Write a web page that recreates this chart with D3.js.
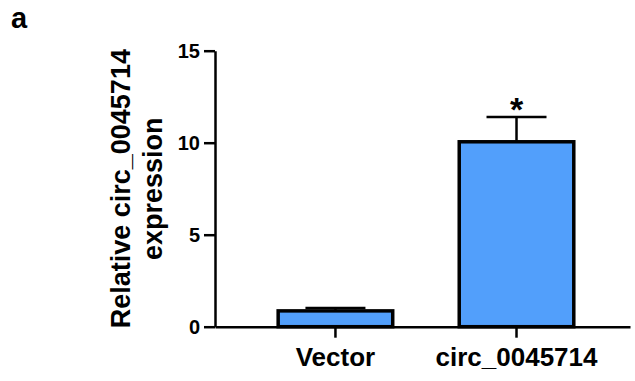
<!DOCTYPE html>
<html>
<head>
<meta charset="utf-8">
<script src="https://cdn.jsdelivr.net/npm/d3@7"></script>
<style>
  body { margin: 0; background: #fff; }
  text { font-family: "Liberation Sans", Arial, sans-serif; font-weight: bold; }
</style>
</head>
<body>
<div id="chart"></div>
<script>
const groups = ["Vector", "circ_0045714"];
const means = [0.86, 10.05];
const errors = [0.16, 1.34];
const marks = ["", "*"];
const yTicks = [0, 5, 10, 15];

const width = 635, height = 381;
const plotLeft = 215, plotTop = 50.7, plotBottom = 326.7, plotRight = 630;
const barStroke = 3.5;

const svg = d3.select("#chart").append("svg")
  .attr("width", width)
  .attr("height", height);

const x = d3.scaleBand()
  .domain(groups)
  .range([plotLeft, plotRight])
  .paddingInner(0.348)
  .paddingOuter(0.32)
  .align(0.53);

const y = d3.scaleLinear()
  .domain([0, 15])
  .range([plotBottom, plotTop]);

// bars
svg.selectAll(".bar")
  .data(groups)
  .enter()
  .append("rect")
  .attr("class", "bar")
  .attr("x", d => x(d) + barStroke / 2)
  .attr("width", x.bandwidth() - barStroke)
  .attr("y", (d, i) => y(means[i]))
  .attr("height", (d, i) => y(0) - y(means[i]))
  .attr("fill", "#529ffb")
  .attr("stroke", "#000")
  .attr("stroke-width", barStroke);

// error bars (upper only)
const capW = 60;
const err = svg.append("g").attr("stroke", "#000").attr("stroke-width", 2.5);
groups.forEach((g, i) => {
  const cx = x(g) + x.bandwidth() / 2;
  err.append("line")
    .attr("x1", cx).attr("x2", cx)
    .attr("y1", y(means[i])).attr("y2", y(means[i] + errors[i]));
  err.append("line")
    .attr("x1", cx - capW / 2).attr("x2", cx + capW / 2)
    .attr("y1", y(means[i] + errors[i])).attr("y2", y(means[i] + errors[i]));
});

// significance marks
svg.selectAll(".mark")
  .data(groups)
  .enter()
  .append("text")
  .attr("x", d => x(d) + x.bandwidth() / 2)
  .attr("y", (d, i) => y(means[i] + errors[i]) + 4)
  .attr("text-anchor", "middle")
  .attr("font-size", 34)
  .text((d, i) => marks[i]);

// axes
const yAxis = svg.append("g")
  .attr("transform", `translate(${plotLeft},0)`)
  .call(d3.axisLeft(y).tickValues(yTicks).tickSize(11).tickSizeOuter(0).tickPadding(4));
yAxis.selectAll("text").attr("font-size", 20).attr("fill", "#000").attr("dy", "0.36em");

const xAxis = svg.append("g")
  .attr("transform", `translate(0,${plotBottom})`)
  .call(d3.axisBottom(x).tickSize(11).tickSizeOuter(0).tickPadding(10));
xAxis.selectAll("text").attr("font-size", 26).attr("fill", "#000").attr("dy", "0.71em");

svg.selectAll(".domain, .tick line")
  .attr("stroke", "#000")
  .attr("stroke-width", 2.5);
svg.selectAll(".tick text").attr("font-family", "Liberation Sans, Arial, sans-serif").attr("font-weight", "bold");

// y label
const ylab = svg.append("text")
  .attr("transform", `translate(130,${(plotTop + plotBottom) / 2}) rotate(-90)`)
  .attr("text-anchor", "middle")
  .attr("font-size", 27);
ylab.append("tspan").attr("x", 0).attr("y", 0).text("Relative circ_0045714");
ylab.append("tspan").attr("x", 0).attr("y", 32).text("expression");

// panel letter
svg.append("text")
  .attr("x", 11)
  .attr("y", 28)
  .attr("font-size", 29)
  .text("a");
</script>
</body>
</html>
